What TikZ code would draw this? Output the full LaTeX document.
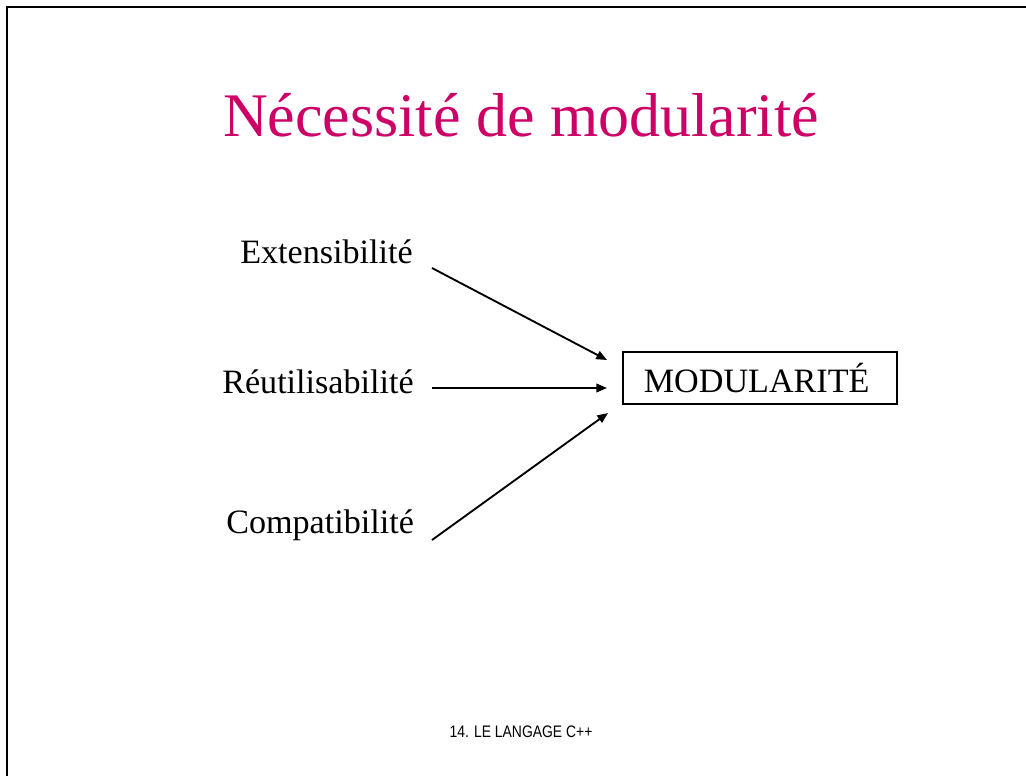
\documentclass[tikz,border=0pt]{standalone}
\usepackage{fontspec}
\setmainfont{Liberation Serif}
\newfontfamily\chanfont{Liberation Sans}
\usepackage{xcolor}
\usetikzlibrary{arrows.meta}
\definecolor{tieude}{RGB}{204,0,102}

\begin{document}
\begin{tikzpicture}[x=0.75pt,y=-0.75pt,
		muiten/.style={line width=1.4pt,-{Triangle[length=8pt,width=6.5pt]}},
		chu/.style={anchor=base west,inner sep=0pt,font=\fontsize{25.6}{30}\selectfont}]
			\useasboundingbox (0,0) rectangle (1026,776);
			% Khung
			\draw [line width=1.6pt] (7,776) -- (7,7) -- (1026,7);
			% Tieu de
			\node [anchor=base,inner sep=0pt,text=tieude,font=\fontsize{46.5}{52}\selectfont] (tieude) at (521,136) {Nécessité de modularité};
			% Cac nut
			\node [chu] (ext) at (240,263) {Extensibilité};
			\node [chu] (reu) at (222,393) {Réutilisabilité};
			\node [chu] (comp) at (226,533) {Compatibilité};
			\node [draw,line width=1.3pt,anchor=west,minimum height=39pt,text width=174pt,align=left,inner xsep=15.75pt,font=\fontsize{25.6}{30}\selectfont] (mod) at (622,378) {MODULARITÉ};
			% Mui ten
			\coordinate (ext-a) at (432,268);
			\coordinate (reu-a) at (432,388);
			\coordinate (comp-a) at (432,540);
			\coordinate (ext-b) at (607,360);
			\coordinate (reu-b) at (607,388);
			\coordinate (comp-b) at (608,413);
			\draw [muiten] (ext-a) -- (ext-b);
			\draw [muiten] (reu-a) -- (reu-b);
			\draw [muiten] (comp-a) -- (comp-b);
			% Chan trang
			\node [anchor=base,inner sep=0pt,font=\chanfont\fontsize{12.5}{15}\selectfont] (chan) at (521,737) {\scalebox{0.835}[1]{14. LE LANGAGE C++}};
		\end{tikzpicture}
\end{document}
